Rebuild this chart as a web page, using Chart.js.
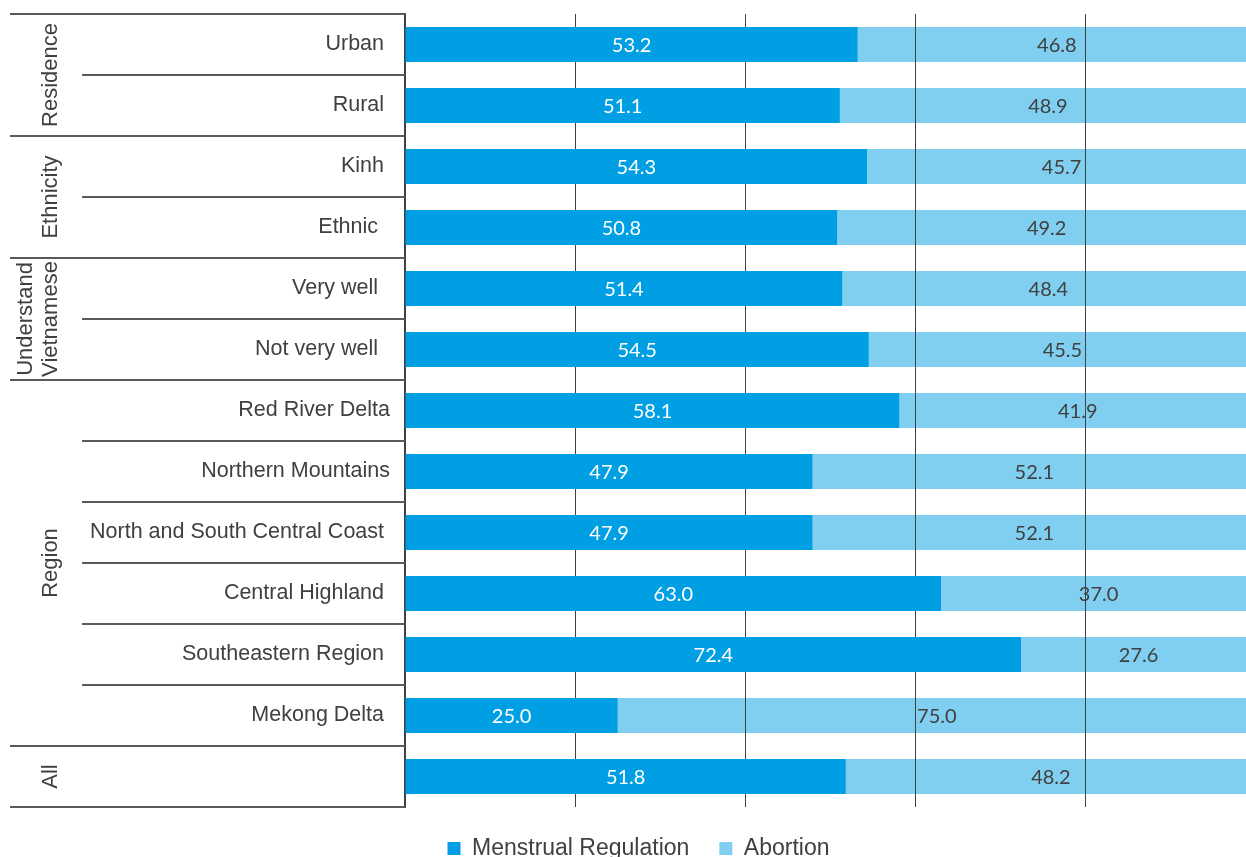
<!DOCTYPE html>
<html lang="en">
<head>
  <meta charset="UTF-8">
  <title>Menstrual Regulation vs Abortion</title>
  <script src="https://cdn.jsdelivr.net/npm/chart.js"></script>
  <style>
    html, body { margin: 0; padding: 0; background: #fff; overflow: hidden; }
    canvas { display: block; }
  </style>
</head>
<body>
  <canvas id="mrChart" width="1256" height="870"></canvas>

  <script>
    // row labels (trailing spaces kept as in the source table)
    const categories = [
      'Urban ', 'Rural ', 'Kinh ', 'Ethnic  ', 'Very well  ', 'Not very well  ',
      'Red River Delta', 'Northern Mountains', 'North and South Central Coast ',
      'Central Highland ', 'Southeastern Region ', 'Mekong Delta ', ''
    ];
    const menstrualRegulation = [53.2, 51.1, 54.3, 50.8, 51.4, 54.5, 58.1, 47.9, 47.9, 63.0, 72.4, 25.0, 51.8];
    const abortion = [46.8, 48.9, 45.7, 49.2, 48.4, 45.5, 41.9, 52.1, 52.1, 37.0, 27.6, 75.0, 48.2];

    // grouping column on the left
    const groupNames = [['Residence'], ['Ethnicity'], ['Understand', 'Vietnamese'], ['Region'], ['All']];
    const groupSizes = [2, 2, 2, 6, 1];

    const xTicks = [0, 20, 40, 60, 80, 100];

    const DARK = '#009fe3';
    const LIGHT = '#80cff0';
    const TEXT = '#404040';
    const LINE = '#5a5a5a';

    // redraw vertical grid on top of the light bars, under the dark ones
    const gridOverLight = {
      id: 'gridOverLight',
      beforeDatasetDraw(chart, args) {
        if (args.index === 0) chart.scales.x.drawGrid(chart.chartArea);
      }
    };

    // value labels centred in each segment
    const segmentLabels = {
      id: 'segmentLabels',
      afterDatasetsDraw(chart) {
        const ctx = chart.ctx;
        ctx.save();
        ctx.font = '20px Lato';
        ctx.textAlign = 'center';
        ctx.textBaseline = 'middle';
        chart.data.datasets.forEach((ds, di) => {
          ctx.fillStyle = di === 0 ? '#ffffff' : TEXT;
          chart.getDatasetMeta(di).data.forEach((bar, i) => {
            const p = bar.getProps(['x', 'y', 'base'], true);
            ctx.fillText(ds.data[i].toFixed(1), (p.x + p.base) / 2, p.y + 1);
          });
        });
        ctx.restore();
      }
    };

    // left table: row separators and rotated group names
    const groupTable = {
      id: 'groupTable',
      afterDraw(chart) {
        const ctx = chart.ctx;
        const y = chart.scales.y;
        const area = chart.chartArea;
        const right = area.left;
        const edge = (i) => (y.getPixelForValue(i) + y.getPixelForValue(i + 1)) / 2;

        ctx.save();
        ctx.strokeStyle = LINE;
        ctx.lineWidth = 2;

        const hline = (x0, yy) => {
          ctx.beginPath();
          ctx.moveTo(x0, yy);
          ctx.lineTo(right, yy);
          ctx.stroke();
        };

        hline(10, area.top);
        hline(10, area.bottom);

        let start = 0;
        groupSizes.forEach((size, g) => {
          const end = start + size - 1;
          for (let i = start; i < end; i++) hline(82, edge(i));
          if (end < categories.length - 1) hline(10, edge(end));

          const top = start === 0 ? area.top : edge(start - 1);
          const bottom = end === categories.length - 1 ? area.bottom : edge(end);
          const cy = (top + bottom) / 2;
          const lines = groupNames[g];
          ctx.fillStyle = TEXT;
          ctx.font = '22px "Liberation Sans", Arial, sans-serif';
          ctx.textAlign = 'center';
          ctx.textBaseline = 'middle';
          lines.forEach((txt, k) => {
            const cx = 51 - 25 * (lines.length - 1 - k);
            ctx.save();
            ctx.translate(cx, cy);
            ctx.rotate(-Math.PI / 2);
            ctx.fillText(txt, 0, 0);
            ctx.restore();
          });
          start += size;
        });
        ctx.restore();
      }
    };

    new Chart(document.getElementById('mrChart'), {
      type: 'bar',
      data: {
        labels: categories,
        datasets: [
          {
            label: 'Menstrual Regulation',
            data: menstrualRegulation,
            backgroundColor: DARK,
            barPercentage: 0.57,
            categoryPercentage: 1
          },
          {
            label: 'Abortion',
            data: abortion,
            backgroundColor: LIGHT,
            barPercentage: 0.57,
            categoryPercentage: 1
          }
        ]
      },
      options: {
        indexAxis: 'y',
        responsive: false,
        animation: false,
        layout: { padding: { left: 21, top: 14, right: 0, bottom: 0 } },
        plugins: {
          tooltip: { enabled: false },
          legend: {
            position: 'bottom',
            labels: {
              boxWidth: 13,
              boxHeight: 13,
              padding: 30,
              color: TEXT,
              font: { family: '"Liberation Sans", Arial, sans-serif', size: 23 }
            }
          }
        },
        scales: {
          x: {
            stacked: true,
            min: 0,
            max: 100,
            afterBuildTicks(scale) {
              scale.ticks = xTicks.map(v => ({ value: v }));
            },
            ticks: { display: false },
            grid: { color: TEXT, lineWidth: 1, drawTicks: false },
            border: { display: false }
          },
          y: {
            stacked: true,
            afterFit(scale) {
              scale.width = 384;
              scale.paddingTop = 0;
              scale.paddingBottom = 0;
            },
            ticks: {
              autoSkip: false,
              padding: 15,
              color: TEXT,
              font: { family: '"Liberation Sans", Arial, sans-serif', size: 21.5 }
            },
            grid: { display: false, drawTicks: false },
            border: { display: true, color: TEXT, width: 2 }
          }
        }
      },
      plugins: [gridOverLight, segmentLabels, groupTable]
    });
  </script>
</body>
</html>
